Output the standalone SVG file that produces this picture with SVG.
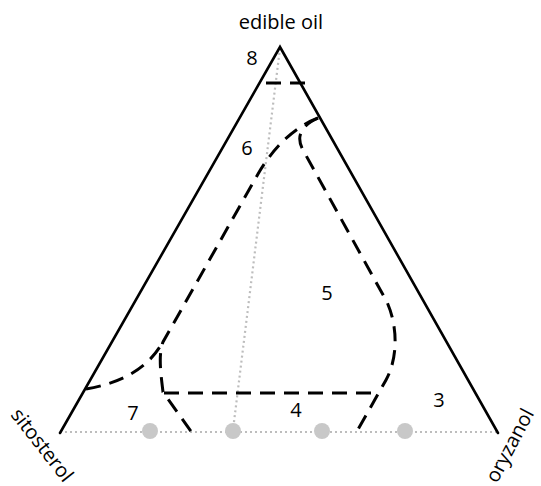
<svg xmlns="http://www.w3.org/2000/svg" width="541" height="486" viewBox="0 0 541 486">
<style>
.lbl{font-family:"Open Sans","Liberation Sans",sans-serif;font-size:20px;fill:#000}
.rot{font-size:20px}
.edge{stroke:#000;stroke-width:2.6;fill:none;stroke-linecap:round}
.dash{stroke:#000;stroke-width:3;fill:none;stroke-dasharray:15 9}
.dot{stroke:#bdbdbd;stroke-width:2.2;fill:none;stroke-dasharray:2 3}
.pt{fill:#c8c8c8}
</style>
<rect width="541" height="486" fill="#fff"/>
<g id="connectors">
<line class="dot" x1="60" y1="432" x2="498" y2="432"/>
<line class="dot" x1="280" y1="48" x2="233" y2="430"/>
<polyline class="edge" points="60,433 280,47 498,433"/>
<line class="dash" x1="266" y1="83" x2="308" y2="83" stroke-dasharray="16 9"/>
<path class="dash" d="M318 118 C292 128 272 150 258 174 L163 342 C158 355 161 375 163 392 L195 437"/>
<path class="dash" d="M86 389 Q140 380 161 345"/>
<path class="dash" d="M318 118 Q292 130 303 150 L387 302 C398 327 398 358 386 380 L356 433"/>
<line class="dash" x1="164" y1="393" x2="378" y2="393"/>
</g>
<g id="points">
<circle class="pt" cx="150" cy="431" r="8"/>
<circle class="pt" cx="233" cy="431" r="8"/>
<circle class="pt" cx="322" cy="431" r="8"/>
<circle class="pt" cx="405" cy="431" r="8"/>
</g>
<g id="labels">
<text class="lbl" x="281" y="29" text-anchor="middle">edible oil</text>
<text class="lbl" x="252" y="65" text-anchor="middle">8</text>
<text class="lbl" x="247" y="155" text-anchor="middle">6</text>
<text class="lbl" x="327" y="300" text-anchor="middle">5</text>
<text class="lbl" x="133" y="420" text-anchor="middle">7</text>
<text class="lbl" x="296" y="417" text-anchor="middle">4</text>
<text class="lbl" x="439" y="407" text-anchor="middle">3</text>
<text class="lbl rot" transform="translate(10,415) rotate(52)">sitosterol</text>
<text class="lbl rot" transform="translate(497,484) rotate(-62)">oryzanol</text>
</g>
</svg>
